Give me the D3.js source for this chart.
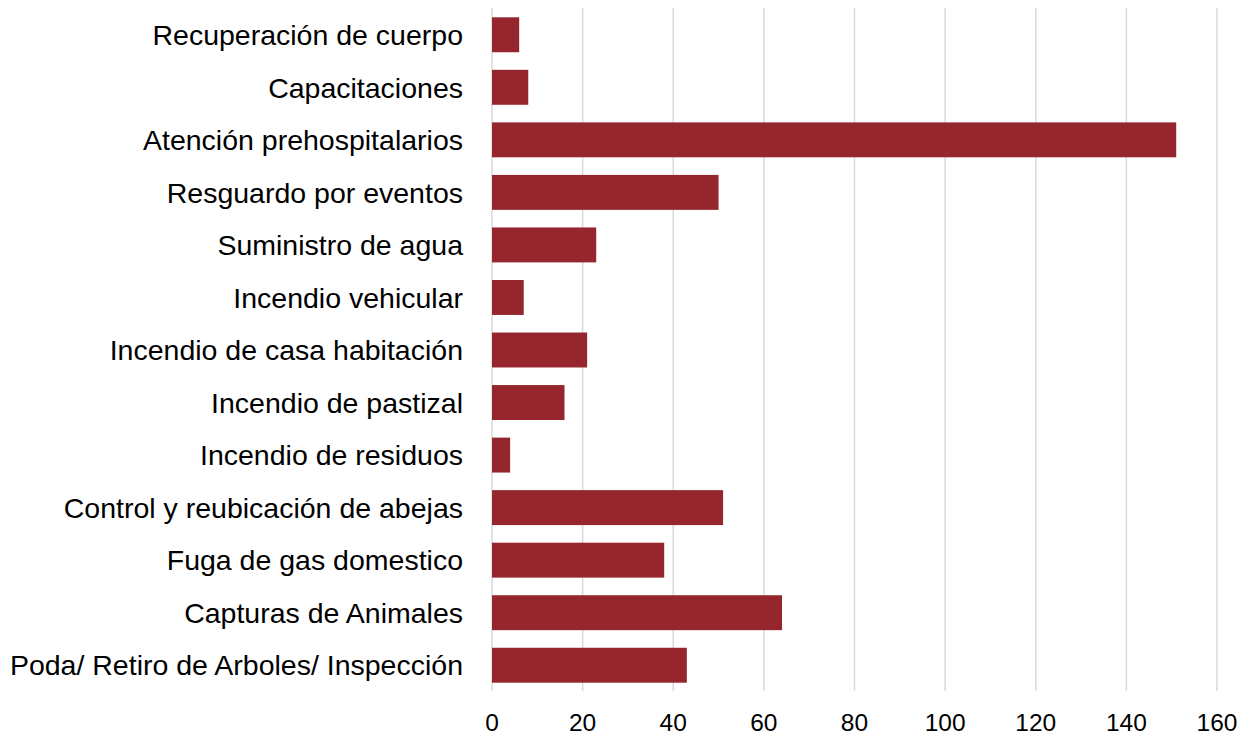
<!DOCTYPE html>
<html><head><meta charset="utf-8">
<script src="https://cdn.jsdelivr.net/npm/d3@7"></script>
<style>body{margin:0;background:#fff;}svg{display:block;}</style>
</head><body>
<svg id="chart" width="1250" height="737"></svg>
<script>
const categories = ["Recuperación de cuerpo","Capacitaciones","Atención prehospitalarios","Resguardo por eventos","Suministro de agua","Incendio vehicular","Incendio de casa habitación","Incendio de pastizal","Incendio de residuos","Control y reubicación de abejas","Fuga de gas domestico","Capturas de Animales","Poda/ Retiro de Arboles/ Inspección"];
const values = [6,8,151,50,23,7,21,16,4,51,38,64,43];
const ticks = [0,20,40,60,80,100,120,140,160];

const svg = d3.select("#chart");
const x = d3.scaleLinear().domain([0,160]).range([492,1217]);
const y = d3.scaleBand().domain(categories).range([8.5,691.5]).paddingInner(0.335).paddingOuter(0.1675);

svg.append("g").selectAll("line").data(ticks).join("line")
  .attr("x1",d=>x(d)).attr("x2",d=>x(d)).attr("y1",8).attr("y2",691)
  .attr("stroke","#d9d9d9").attr("stroke-width",1.5);

svg.append("g").selectAll("rect").data(values).join("rect")
  .attr("x",x(0)).attr("y",(d,i)=>y(categories[i]))
  .attr("width",d=>x(d)-x(0)).attr("height",y.bandwidth())
  .attr("fill","#95262d");

svg.append("g").selectAll("text").data(categories).join("text")
  .attr("x",463).attr("y",d=>y(d)+y.bandwidth()/2).attr("dy","0.36em")
  .attr("text-anchor","end").attr("font-family","Liberation Sans, Arial, sans-serif")
  .attr("font-size",28.5).attr("fill","#000").text(d=>d);

svg.append("g").selectAll("text").data(ticks).join("text")
  .attr("x",d=>x(d)).attr("y",731).attr("text-anchor","middle")
  .attr("font-family","Liberation Sans, Arial, sans-serif")
  .attr("font-size",24.5).attr("fill","#000").text(d=>d);
</script>
</body></html>
